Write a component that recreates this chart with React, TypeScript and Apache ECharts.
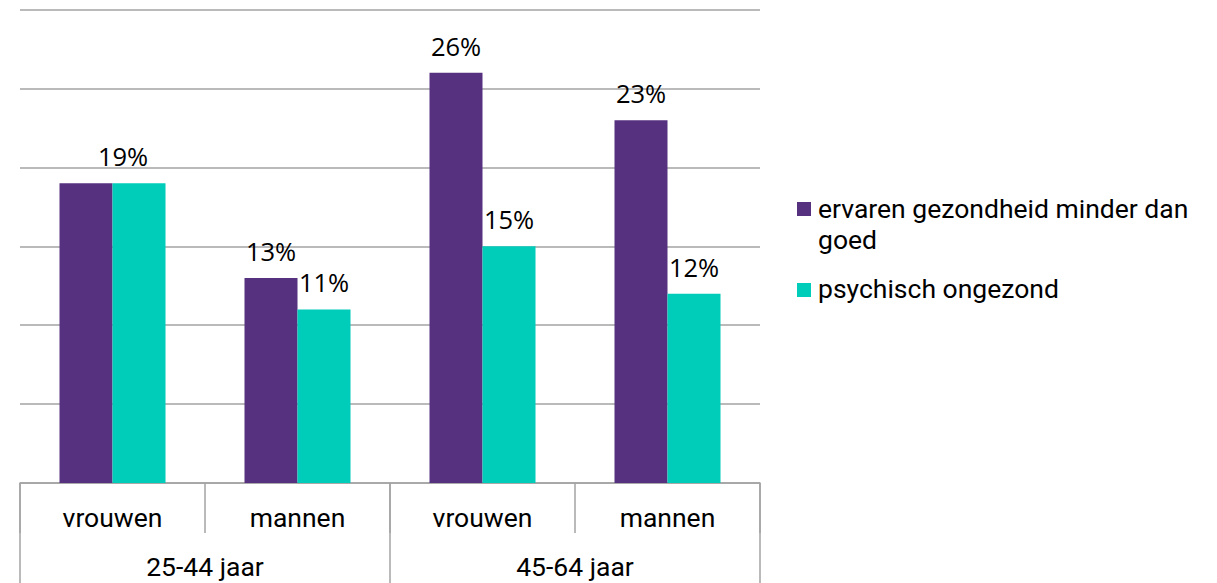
import React, { useEffect, useRef } from "react";
import * as echarts from "echarts";

const subCategories = ["vrouwen", "mannen", "vrouwen", "mannen"];
const ageGroups = ["25-44 jaar", "45-64 jaar"];
const seriesNames = ["ervaren gezondheid minder dan goed", "psychisch ongezond"];
const legendLines = ["ervaren gezondheid minder dan\ngoed", "psychisch ongezond"];
const ervarenGezondheid = [19, 13, 26, 23];
const psychischOngezond = [19, 11, 15, 12];
const colors = ["#563180", "#00CCBA"];
const yTicks = { min: 0, max: 30, interval: 5 };

export default function App() {
  const ref = useRef<HTMLDivElement>(null);
  useEffect(() => {
    if (!ref.current) return;
    const chart = echarts.init(ref.current, undefined, { renderer: "svg" });
    const axisFont = "Roboto";
    const gridColor = "#A3A3A3";
    const fs = 26.5;
    const makeData = (d: number[], si: number) =>
      d.map((v, i) => {
        if (i === 0 && si === 0) return { value: v, label: { show: false } };
        if (i === 0 && si === 1) return { value: v, label: { offset: [-16, 0] } };
        return v;
      });
    chart.setOption({
      animation: false,
      textStyle: { fontFamily: axisFont },
      grid: { left: 20, right: 457, top: 9.7, bottom: 100, containLabel: false },
      xAxis: [
        {
          type: "category",
          data: subCategories,
          position: "bottom",
          axisLine: { show: true, lineStyle: { color: gridColor, width: 1.5 } },
          axisTick: { show: true, length: 50, lineStyle: { color: gridColor, width: 1.5 } },
          axisLabel: { color: "#000", fontSize: fs, fontFamily: axisFont, margin: 21, interval: 0 },
        },
        {
          type: "category",
          data: ageGroups,
          position: "bottom",
          gridIndex: 0,
          axisLine: { show: false },
          axisTick: { show: true, length: 100, lineStyle: { color: gridColor, width: 1.5 } },
          axisLabel: { color: "#000", fontSize: fs, fontFamily: axisFont, margin: 70, interval: 0 },
        },
      ],
      yAxis: {
        type: "value",
        min: yTicks.min,
        max: yTicks.max,
        interval: yTicks.interval,
        axisLabel: { show: false },
        axisLine: { show: false },
        axisTick: { show: false },
        splitLine: { show: true, lineStyle: { color: gridColor, width: 1.5 } },
      },
      series: [ervarenGezondheid, psychischOngezond].map((d, i) => ({
        type: "bar",
        name: seriesNames[i],
        xAxisIndex: 0,
        data: makeData(d, i),
        barWidth: 53,
        barGap: "0%",
        itemStyle: { color: colors[i] },
        label: {
          show: true,
          position: "top",
          distance: 14,
          formatter: "{c}%",
          color: "#000",
          fontSize: 25.5,
          fontFamily: "Open Sans",
        },
      })),
      graphic: [
        { type: "rect", shape: { x: 797, y: 202, width: 14, height: 14 }, style: { fill: colors[0] } },
        {
          type: "text",
          x: 818,
          y: 193,
          style: { text: legendLines[0], fontSize: fs, fontFamily: axisFont, fill: "#000", lineHeight: 31, textVerticalAlign: "top" },
        },
        { type: "rect", shape: { x: 797, y: 283, width: 14, height: 14 }, style: { fill: colors[1] } },
        {
          type: "text",
          x: 818,
          y: 273,
          style: { text: legendLines[1], fontSize: fs, fontFamily: axisFont, fill: "#000", lineHeight: 31, textVerticalAlign: "top" },
        },
      ],
    });
    return () => chart.dispose();
  }, []);
  return (
    <div
      ref={ref}
      style={{ position: "fixed", left: 0, top: 0, width: 1217, height: 583, background: "#fff" }}
    />
  );
}
